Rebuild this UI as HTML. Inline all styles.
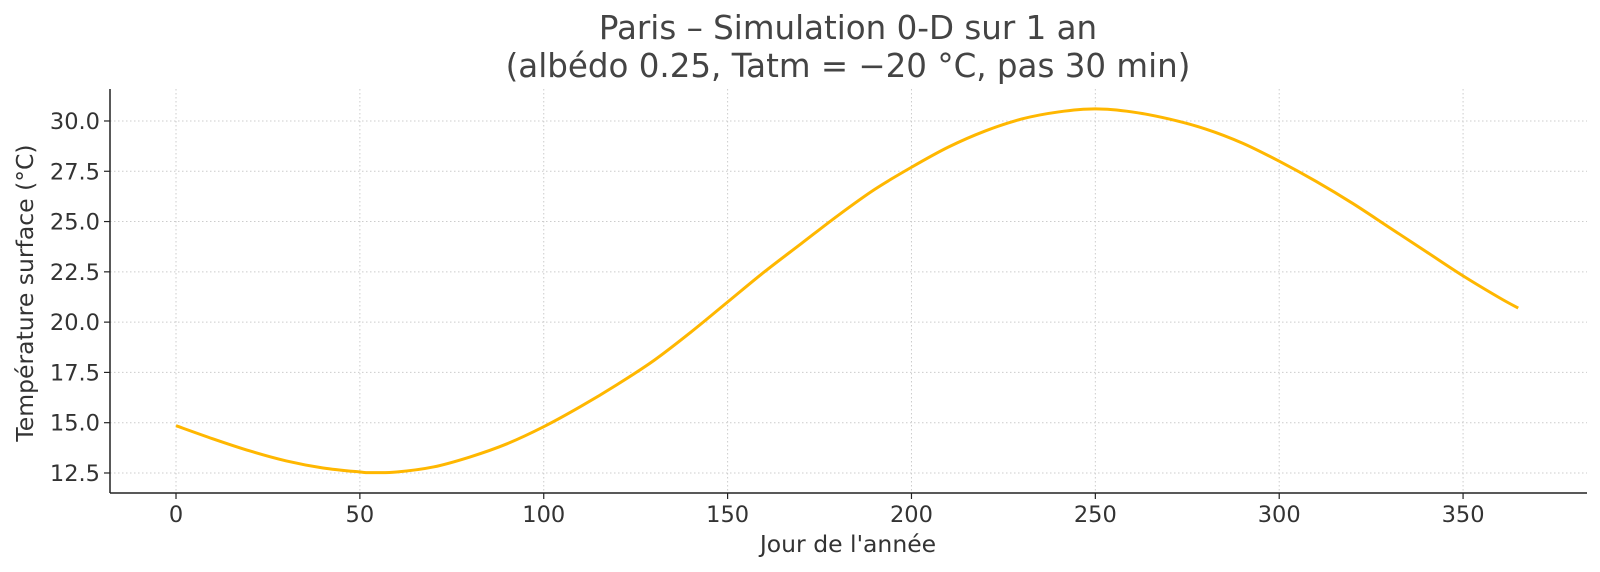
<!DOCTYPE html>
<html><head><meta charset="utf-8"><style>
body{margin:0;background:#fff;}
svg{display:block;font-family:"DejaVu Sans","Liberation Sans",sans-serif;}
</style></head><body>
<svg id="chart" width="1600" height="572">
<text x="848" y="39" text-anchor="middle" font-size="32.5" fill="#444">Paris – Simulation 0-D sur 1 an</text>
<text x="848" y="77" text-anchor="middle" font-size="32.5" fill="#444">(albédo 0.25, Tatm = −20 °C, pas 30 min)</text>
<g id="grid"></g>
<g id="xticks"></g>
<g id="yticks"></g>
<path id="line" fill="none" stroke="#FFB700" stroke-width="3"></path>
<line x1="110" y1="89" x2="110" y2="493" stroke="#222" stroke-width="1.5"/>
<line x1="110" y1="493" x2="1587" y2="493" stroke="#222" stroke-width="1.5"/>
<text x="848" y="552" text-anchor="middle" font-size="23.5" fill="#333">Jour de l'année</text>
<text transform="translate(33,293) rotate(-90)" text-anchor="middle" font-size="23.5" fill="#333">Température surface (°C)</text>
</svg>
<script>
const days=[0,10,20,30,40,50,53,60,70,80,90,100,110,120,130,140,150,160,170,180,190,200,210,220,230,240,250,260,270,280,290,300,310,320,330,340,350,360,365];
const temps=[14.85,14.2,13.6,13.1,12.75,12.55,12.52,12.55,12.8,13.3,13.95,14.8,15.8,16.9,18.1,19.5,21.0,22.5,23.9,25.3,26.6,27.7,28.7,29.5,30.1,30.45,30.6,30.45,30.1,29.6,28.9,28.0,27.0,25.9,24.7,23.5,22.3,21.2,20.7];
const xTicks=[0,50,100,150,200,250,300,350];
const yTicks=[12.5,15.0,17.5,20.0,22.5,25.0,27.5,30.0];
const L=110,R=1587,T=89,B=493,xmin=-17.95,xmax=383.7,ymin=11.505,ymax=31.59;
const sx=v=>L+(v-xmin)/(xmax-xmin)*(R-L);
const sy=v=>B-(v-ymin)/(ymax-ymin)*(B-T);
const NS='http://www.w3.org/2000/svg';
const grid=document.getElementById('grid'),xg=document.getElementById('xticks'),yg=document.getElementById('yticks');
function mk(tag,attrs,parent){const e=document.createElementNS(NS,tag);for(const k in attrs)e.setAttribute(k,attrs[k]);parent.appendChild(e);return e;}
xTicks.forEach(t=>{
 const x=sx(t);
 const g=mk('line',{x1:x,x2:x,y1:T,y2:B,stroke:'#ccc','stroke-width':1,'stroke-dasharray':'1.5,2.5'},grid);
 
 
 const tk=mk('line',{x1:x,x2:x,y1:B,y2:B+6,stroke:'#222','stroke-width':1.2},xg);
 
 
 const tx=mk('text',{x:x,y:B+29,'text-anchor':'middle','font-size':22.5,fill:'#333'},xg);
 tx.textContent=t;
 
 
});
yTicks.forEach(t=>{
 const y=sy(t);
 const g=mk('line',{x1:L,x2:R,y1:y,y2:y,stroke:'#ccc','stroke-width':1,'stroke-dasharray':'1.5,2.5'},grid);
 
 
 const tk=mk('line',{x1:L-6,x2:L,y1:y,y2:y,stroke:'#222','stroke-width':1.2},yg);
 
 
 const tx=mk('text',{x:L-10,y:y+8,'text-anchor':'end','font-size':22.5,fill:'#333'},yg);
 tx.textContent=t.toFixed(1);
 
 
});
const P=days.map((d,i)=>[sx(d),sy(temps[i])]);
let d='M'+P[0][0]+','+P[0][1];
for(let i=0;i<P.length-1;i++){
 const p0=P[Math.max(0,i-1)],p1=P[i],p2=P[i+1],p3=P[Math.min(P.length-1,i+2)];
 const c1=[p1[0]+(p2[0]-p0[0])/6,p1[1]+(p2[1]-p0[1])/6];
 const c2=[p2[0]-(p3[0]-p1[0])/6,p2[1]-(p3[1]-p1[1])/6];
 d+=' C'+c1[0]+','+c1[1]+' '+c2[0]+','+c2[1]+' '+p2[0]+','+p2[1];
}
document.getElementById('line').setAttribute('d',d);
</script>
</body></html>
